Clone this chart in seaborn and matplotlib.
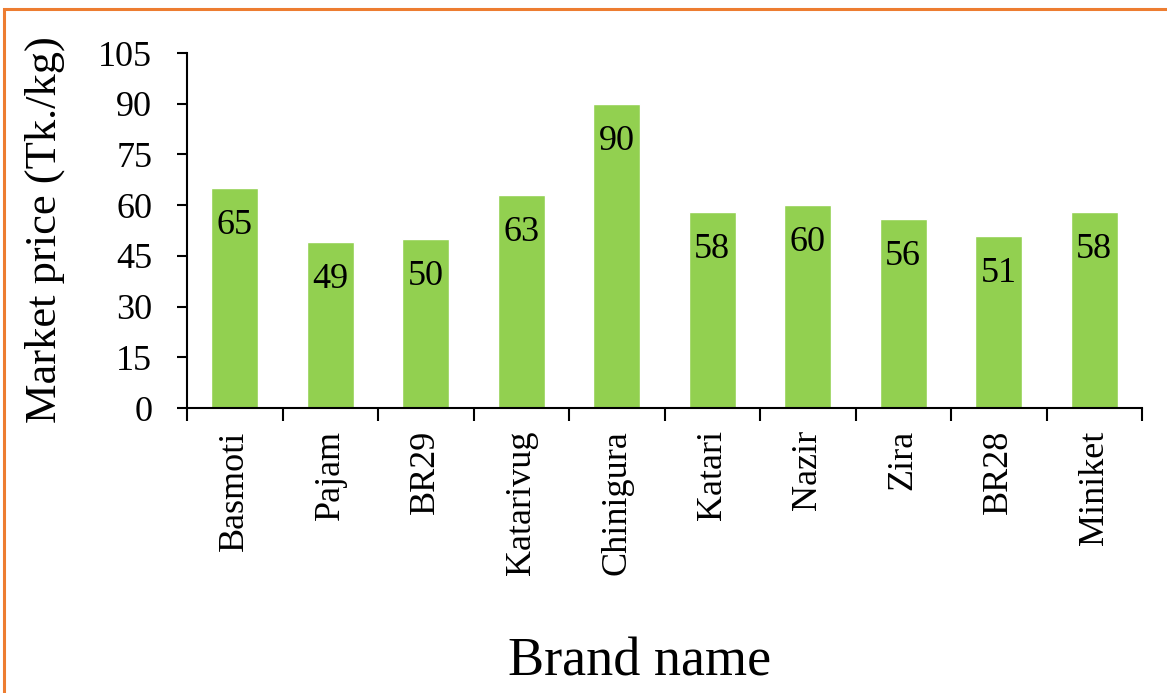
import matplotlib
matplotlib.use('Agg')
import matplotlib.pyplot as plt
import seaborn as sns
from matplotlib.patches import Rectangle
from matplotlib.ticker import MultipleLocator, FixedLocator

# Market price of rice brands (Tk./kg)
brands = ['Basmoti', 'Pajam', 'BR29', 'Katarivug', 'Chinigura',
          'Katari', 'Nazir', 'Zira', 'BR28', 'Miniket']
prices = [65, 49, 50, 63, 90, 58, 60, 56, 51, 58]

sns.set_style('white')
plt.rcParams['font.family'] = ['Liberation Serif', 'DejaVu Serif']
plt.rcParams['text.color'] = 'black'
plt.rcParams['xtick.color'] = 'black'
plt.rcParams['ytick.color'] = 'black'
plt.rcParams['axes.labelcolor'] = 'black'

fig = plt.figure(figsize=(11.67, 6.93), dpi=100)
ax = fig.add_axes([187/1167, 1 - 408/693, (1142 - 187)/1167, (408 - 53)/693])

sns.barplot(x=brands, y=prices, color='#92D050', saturation=1, width=0.49, ax=ax)

ax.set_xlim(-0.5, len(brands) - 0.5)
ax.set_ylim(0, 105)
ax.yaxis.set_major_locator(MultipleLocator(15))

# value labels just inside the top of each bar
for i, v in enumerate(prices):
    ax.annotate(str(v), (i, v), xytext=(0, -27), textcoords='offset points',
                ha='center', va='center', fontsize=26, color='black')

for s in ['top', 'right']:
    ax.spines[s].set_visible(False)
for s in ['left', 'bottom']:
    ax.spines[s].set_color('black')
    ax.spines[s].set_linewidth(1.5)

ax.tick_params(axis='y', which='major', direction='out', length=7, width=1.5,
               labelsize=26, left=True, pad=18)
ax.tick_params(axis='x', which='major', length=0, labelsize=26, pad=16)
ax.xaxis.set_minor_locator(FixedLocator([i - 0.5 for i in range(len(brands) + 1)]))
ax.tick_params(axis='x', which='minor', direction='out', length=9, width=1.5, bottom=True)
plt.setp(ax.get_xticklabels(), rotation=90, va='top', ha='center')

ax.set_xlabel('')
ax.set_ylabel('')
fig.text(45/1167, 1 - 230/693, 'Market price (Tk./kg)', rotation=90,
         ha='center', va='center', fontsize=32)
fig.text(640/1167, 1 - 662/693, 'Brand name', ha='center', va='center', fontsize=39)

# orange frame around the chart
fig.patches.append(Rectangle((4/1167, -0.1), 1.2, 1.1 - 9/693, transform=fig.transFigure,
                             fill=False, edgecolor='#ED7D31', linewidth=2.2))

fig.savefig('out.png', dpi=100)
